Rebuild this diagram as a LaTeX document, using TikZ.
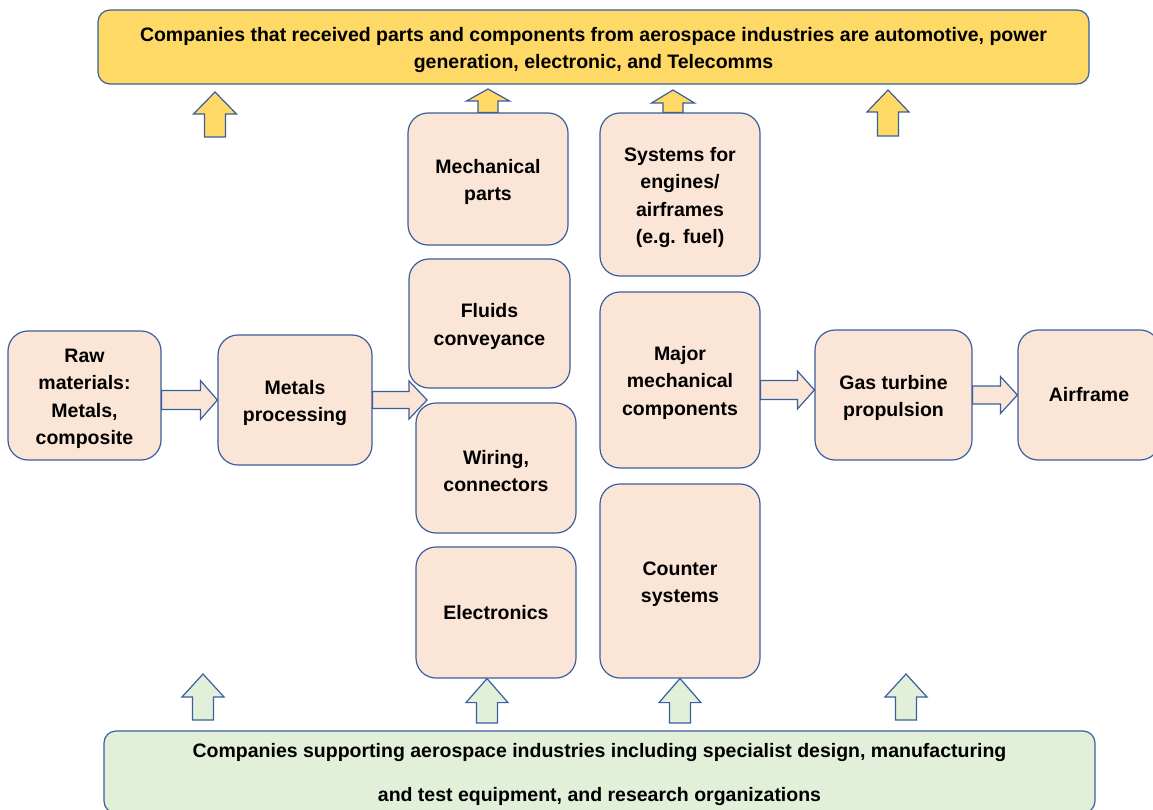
\documentclass[tikz,border=0pt]{standalone}
\usepackage{fontspec}
\setmainfont{Liberation Sans}
\usetikzlibrary{calc}
\definecolor{boxfill}{HTML}{FBE5D6}
\definecolor{edge}{HTML}{3A5F9C}
\definecolor{topfill}{HTML}{FFD966}
\definecolor{botfill}{HTML}{E2F0D9}
\newcommand\lift{\rule{0pt}{20pt}}

\begin{document}
\begin{tikzpicture}[x=1pt, y=-1pt,
    txt/.style = {font=\fontsize{19.5}{27.3}\selectfont\bfseries, align=center, inner sep=0pt},
    block/.style 2 args = {txt, draw=edge, line width=1.2pt, fill=boxfill, rounded corners=20pt, minimum width=#1pt, minimum height=#2pt},
    banner/.style = {txt, draw=edge, line width=1.2pt, rounded corners=12pt, minimum width=991pt},
    rarrow/.style n args = {3}{draw=edge, line width=1.2pt, fill=boxfill,
        to path={let \p1=(\tikztostart), \p2=(\tikztotarget) in
        (\x1,\y1-#1pt) -- (\x2-#3pt,\y1-#1pt) -- (\x2-#3pt,\y1-#2pt) -- (\x2,\y1)
        -- (\x2-#3pt,\y1+#2pt) -- (\x2-#3pt,\y1+#1pt) -- (\x1,\y1+#1pt) -- cycle}},
    uarrow/.style n args = {3}{draw=edge, line width=1.2pt,
        to path={let \p1=(\tikztostart), \p2=(\tikztotarget) in
        (\x1-#1pt,\y1) -- (\x1-#1pt,\y2-#3pt) -- (\x1-#2pt,\y2-#3pt) -- (\x1,\y2)
        -- (\x1+#2pt,\y2-#3pt) -- (\x1+#1pt,\y2-#3pt) -- (\x1+#1pt,\y1) -- cycle}}]
    \useasboundingbox (0,0) rectangle (1153,810);
    \fill[white] (0,0) rectangle (1153,810);
    \clip (0,0) rectangle (1153,810);

    \node[banner, fill=topfill, minimum height=74pt] (top) at (593.5,47) {\lift Companies that received parts and components from aerospace industries are automotive, power\\ generation, electronic, and Telecomms};
    \node[banner, fill=botfill, minimum height=82pt, font=\fontsize{19.5}{44}\selectfont\bfseries] (bottom) at (599.5,772) {\lift Companies supporting aerospace industries including specialist design, manufacturing\\ and test equipment, and research organizations};

    \node[block={153}{129}] (raw) at (84.5,395.5) {\lift Raw\\ materials:\\ Metals,\\ composite};
    \node[block={154}{130}] (metals) at (295,400) {\lift Metals\\ processing};
    \node[block={160}{132}] (mech) at (488,179) {\lift Mechanical\\ parts};
    \node[block={161}{129}] (fluids) at (489.5,323.5) {\lift Fluids\\ conveyance};
    \node[block={160}{130}] (wiring) at (496,468) {\lift Wiring,\\ connectors};
    \node[block={160}{131}] (elec) at (496,612.5) {Electronics};
    \node[block={160}{163}] (sys) at (680,194.5) {\lift Systems for\\ engines/\\ airframes\\ (e.g. fuel)};
    \node[block={160}{176}] (major) at (680,380) {\lift Major\\ mechanical\\ components};
    \node[block={160}{194}] (counter) at (680,581) {\lift Counter\\ systems};
    \node[block={157}{130}] (gas) at (893.5,395) {\lift Gas turbine\\ propulsion};
    \node[block={142}{130}] (air) at (1089,395) {Airframe};

    \coordinate (split) at (427,400);
    \draw[rarrow={9.5}{19.5}{17}] (raw.east |- metals.west) to (metals.west);
    \draw[rarrow={8.5}{19}{18}] (metals.east) to (split);
    \draw[rarrow={9.5}{19}{17}] ([yshift=-10pt]major.east) to (gas.west);
    \draw[rarrow={9}{18.5}{17}] (gas.east) to (air.west);

    \coordinate (ya) at (215,137);
    \coordinate (yat) at (215,92);
    \coordinate (ybt) at (488,89);
    \coordinate (yct) at (673,90);
    \coordinate (yd) at (888,136);
    \coordinate (ydt) at (888,90);
    \draw[uarrow={10.5}{21.5}{22}, fill=topfill] (ya) to (yat);
    \draw[uarrow={10}{21.5}{12}, fill=topfill] (mech.north) to (ybt);
    \draw[uarrow={10}{21.5}{13}, fill=topfill] ([xshift=-7pt]sys.north) to (yct);
    \draw[uarrow={10.5}{21}{22}, fill=topfill] (yd) to (ydt);

    \coordinate (ga) at (203,720);
    \coordinate (gat) at (203,674);
    \coordinate (gb) at (487,723);
    \coordinate (gc) at (680,723);
    \coordinate (gd) at (906,720);
    \coordinate (gdt) at (906,674);
    \draw[uarrow={10.5}{21}{23}, fill=botfill] (ga) to (gat);
    \draw[uarrow={10.5}{21}{24}, fill=botfill] (gb) to (elec.south);
    \draw[uarrow={10.5}{21}{24}, fill=botfill] (gc) to (counter.south);
    \draw[uarrow={10.5}{21}{23}, fill=botfill] (gd) to (gdt);
\end{tikzpicture}
\end{document}
